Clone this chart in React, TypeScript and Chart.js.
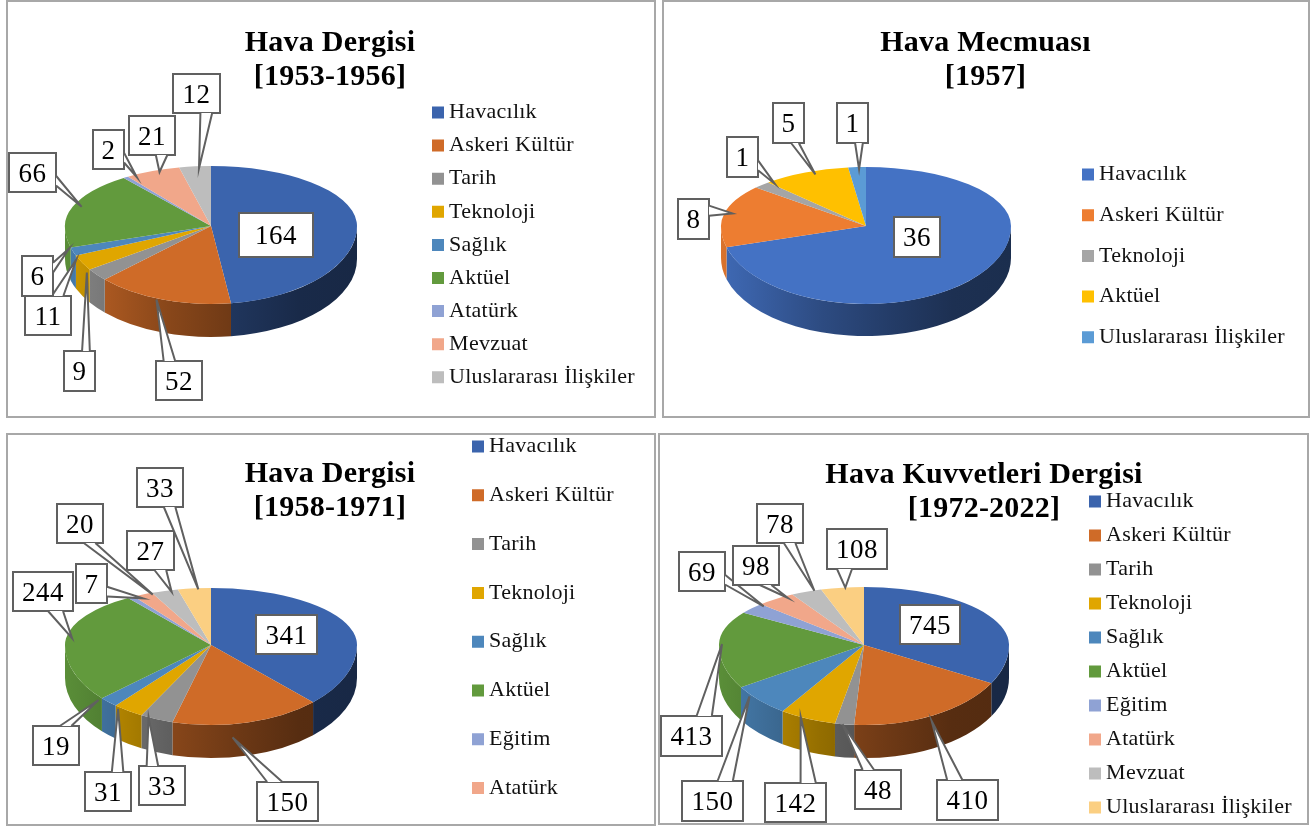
import React, { useEffect, useRef } from "react";
import { Chart, registerables } from "chart.js";

Chart.register(...registerables);

// ---------- data ----------
const p1Title = ["Hava Dergisi", "[1953-1956]"];
const p1Categories = ["Havacılık", "Askeri Kültür", "Tarih", "Teknoloji", "Sağlık", "Aktüel", "Atatürk", "Mevzuat", "Uluslararası İlişkiler"];
const p1Values = [164, 52, 9, 11, 6, 66, 2, 21, 12];

const p2Title = ["Hava Mecmuası", "[1957]"];
const p2Categories = ["Havacılık", "Askeri Kültür", "Teknoloji", "Aktüel", "Uluslararası İlişkiler"];
const p2Values = [36, 8, 1, 5, 1];

const p3Title = ["Hava Dergisi", "[1958-1971]"];
const p3Categories = ["Havacılık", "Askeri Kültür", "Tarih", "Teknoloji", "Sağlık", "Aktüel", "Eğitim", "Atatürk", "Mevzuat", "Uluslararası İlişkiler"];
const p3Values = [341, 150, 33, 31, 19, 244, 7, 20, 27, 33];

const p4Title = ["Hava Kuvvetleri Dergisi", "[1972-2022]"];
const p4Categories = ["Havacılık", "Askeri Kültür", "Tarih", "Teknoloji", "Sağlık", "Aktüel", "Eğitim", "Atatürk", "Mevzuat", "Uluslararası İlişkiler"];
const p4Values = [745, 410, 48, 142, 150, 413, 69, 98, 78, 108];

// ---------- styles ----------
const p1Colors = ["#3B64AD", "#CF6B28", "#929292", "#E0A600", "#4D87BC", "#629A3D", "#8FA2D4", "#F1A78A", "#BDBDBD"];
const p2Colors = ["#4472C4", "#ED7D31", "#A5A5A5", "#FFC000", "#5B9BD5"];
const p3Colors = ["#3B64AD", "#CF6B28", "#929292", "#E0A600", "#4D87BC", "#629A3D", "#8FA2D4", "#F1A78A", "#BDBDBD", "#FBCF82"];
const sideShade: [number, number][] = [[0, 0.92], [0.1, 0.85], [0.35, 0.66], [0.6, 0.52], [0.8, 0.42], [1, 0.4]];

// ---------- layout (page coordinates) ----------
// callout boxes: [left, top, right, bottom]
const p1Boxes = [[239, 213, 313, 257], [156, 361, 202, 400], [64, 351, 95, 391], [25, 296, 71, 335], [22, 256, 53, 296], [9, 153, 56, 192], [93, 130, 124, 169], [129, 116, 175, 155], [173, 74, 220, 113]];
const p2Boxes = [[894, 217, 940, 257], [678, 199, 709, 239], [727, 137, 758, 177], [773, 103, 804, 143], [837, 103, 868, 143]];
const p3Boxes = [[256, 615, 317, 654], [257, 782, 318, 821], [139, 766, 185, 805], [85, 772, 131, 811], [33, 726, 79, 765], [13, 572, 73, 611], [76, 564, 107, 603], [57, 504, 103, 543], [127, 531, 174, 570], [137, 468, 183, 507]];
const p4Boxes = [[900, 605, 960, 644], [937, 780, 998, 820], [855, 770, 901, 809], [765, 783, 826, 822], [682, 781, 743, 821], [661, 716, 722, 756], [679, 552, 725, 591], [733, 546, 779, 585], [757, 504, 803, 543], [827, 529, 887, 569]];
// leader tip offsets from each slice's rim midpoint; null = label sits on the slice with no leader
type Nudge = [number, number] | null;
const p1Nudges: Nudge[] = [null, [-6, 0], [-10, -2], [-6, -3], [-4, -3], [9, 0], [11, 0], [7, 1], [4, 2]];
const p2Nudges: Nudge[] = [null, [8, 0], [13, -1], [10, 2], [2, 2]];
const p3Nudges: Nudge[] = [null, [-15, 15], [-8, -2], [-10, -2], [-10, -2], [6, 0], [12, 1], [10, 0], [7, 1], [4, 1]];
const p4Nudges: Nudge[] = [null, [-2, 6], [-2, 0], [-7, -2], [-10, -4], [3, 0], [12, -2], [12, -1], [8, -1], [3, 0]];

const FONT = "'Liberation Serif', serif";

interface Panel {
  frame: [number, number, number, number]; // left, top, right, bottom
  title: string[]; titleX: number; titleY: number;
  categories: string[]; values: number[]; colors: string[];
  boxes: number[][]; nudges: Nudge[];
  cx: number; hub: number; rx: number; ryTop: number; ryBot: number; depth: number;
  legendX: number; legendY: number; legendStep: number;
}

const panels: Panel[] = [
  { frame: [7, 1, 655, 417], title: p1Title, titleX: 330, titleY: 43, categories: p1Categories, values: p1Values, colors: p1Colors, boxes: p1Boxes, nudges: p1Nudges, cx: 211, hub: 226, rx: 146, ryTop: 60, ryBot: 78, depth: 33, legendX: 432, legendY: 112.5, legendStep: 33.1 },
  { frame: [663, 1, 1309, 417], title: p2Title, titleX: 985.5, titleY: 43, categories: p2Categories, values: p2Values, colors: p2Colors, boxes: p2Boxes, nudges: p2Nudges, cx: 866, hub: 226, rx: 145, ryTop: 59, ryBot: 78, depth: 32, legendX: 1082, legendY: 174.5, legendStep: 40.7 },
  { frame: [7, 434, 655, 825], title: p3Title, titleX: 330, titleY: 474, categories: p3Categories, values: p3Values, colors: p3Colors, boxes: p3Boxes, nudges: p3Nudges, cx: 211, hub: 645, rx: 146, ryTop: 57, ryBot: 80, depth: 33, legendX: 472, legendY: 446.5, legendStep: 48.8 },
  { frame: [659, 434, 1308, 824], title: p4Title, titleX: 984, titleY: 475, categories: p4Categories, values: p4Values, colors: p3Colors, boxes: p4Boxes, nudges: p4Nudges, cx: 864, hub: 645, rx: 145, ryTop: 58, ryBot: 80, depth: 33, legendX: 1089, legendY: 501.5, legendStep: 34 },
];

function shade(hex: string, f: number): string {
  const n = parseInt(hex.slice(1), 16);
  const c = [(n >> 16) & 255, (n >> 8) & 255, n & 255].map((v) => Math.round(v * f));
  return `rgb(${c[0]},${c[1]},${c[2]})`;
}

function makePlugin(p: Panel) {
  const ox = p.frame[0];
  const oy = p.frame[1];
  const cx = p.cx - ox;
  const hub = p.hub - oy;
  const LEGEND_FONT = 22;
  const TITLE_LH = 34;
  return {
    id: "pie3d",
    afterLayout(chart: any) {
      chart.chartArea = { left: cx - p.rx, right: cx + p.rx, top: hub - p.rx, bottom: hub + p.rx, width: 2 * p.rx, height: 2 * p.rx };
      const pad = p.legendStep - LEGEND_FONT;
      const lg = chart.legend;
      lg.left = p.legendX - ox + 5.9 - pad;
      lg.top = p.legendY - oy - LEGEND_FONT / 2 - pad;
      lg.right = lg.left + 300;
      lg.bottom = lg.top + 700;
      const t = chart.titleBlock;
      t.left = p.titleX - ox - 320;
      t.right = p.titleX - ox + 320;
      t.top = p.titleY - oy - TITLE_LH / 2;
      t.bottom = t.top + 2 * TITLE_LH;
    },
    beforeDraw(chart: any) {
      chart.ctx.letterSpacing = "0.25px";
    },
    beforeDatasetsDraw(chart: any) {
      const ctx: CanvasRenderingContext2D = chart.ctx;
      const arcs = chart.getDatasetMeta(0).data;
      arcs.forEach((arc: any, i: number) => {
        const a = Math.max(arc.startAngle, 0);
        const b = Math.min(arc.endAngle, Math.PI);
        if (b <= a) return;
        const g = ctx.createLinearGradient(arc.x - p.rx, 0, arc.x + p.rx, 0);
        sideShade.forEach(([t, f]) => g.addColorStop(t, shade(p.colors[i], f)));
        ctx.beginPath();
        ctx.ellipse(arc.x, arc.y, p.rx, p.ryBot, 0, a, b);
        ctx.ellipse(arc.x, arc.y + p.depth, p.rx, p.ryBot, 0, b, a, true);
        ctx.closePath();
        ctx.fillStyle = g;
        ctx.fill();
      });
      // front part of the top face: the library draws it, squashed, below the hub
      ctx.save();
      ctx.beginPath();
      ctx.rect(0, hub, chart.width, chart.height - hub);
      ctx.clip();
      ctx.translate(cx, hub);
      ctx.scale(1, p.ryBot / p.rx);
      ctx.translate(-cx, -hub);
    },
    afterDatasetsDraw(chart: any) {
      const ctx: CanvasRenderingContext2D = chart.ctx;
      ctx.restore();
      // back part of the top face, foreshortened more strongly
      ctx.save();
      ctx.beginPath();
      ctx.rect(0, 0, chart.width, hub);
      ctx.clip();
      ctx.translate(cx, hub);
      ctx.scale(1, p.ryTop / p.rx);
      ctx.translate(-cx, -hub);
      chart.getDatasetMeta(0).data.forEach((arc: any) => arc.draw(ctx));
      ctx.restore();
    },
    afterDraw(chart: any) {
      const ctx: CanvasRenderingContext2D = chart.ctx;
      const arcs = chart.getDatasetMeta(0).data;
      ctx.save();
      ctx.lineWidth = 2;
      ctx.strokeStyle = "#606060";
      ctx.lineJoin = "miter";
      arcs.forEach((arc: any, i: number) => {
        const [l0, t0, r0, b0] = p.boxes[i];
        const l = l0 - ox, t = t0 - oy, r = r0 - ox, b = b0 - oy;
        const w = r - l, h = b - t;
        ctx.fillStyle = "#ffffff";
        ctx.fillRect(l, t, w, h);
        ctx.strokeRect(l, t, w, h);
        const nudge = p.nudges[i];
        if (nudge) {
          const mid = (arc.startAngle + arc.endAngle) / 2;
          const s = Math.sin(mid);
          const tx = arc.x + p.rx * Math.cos(mid) + nudge[0];
          const ty = arc.y + (s > 0 ? p.ryBot : p.ryTop) * s + nudge[1];
          const dx = tx - (l + w / 2), dy = ty - (t + h / 2);
          let p1: [number, number], p2: [number, number];
          if (Math.abs(dy) / h > Math.abs(dx) / w) {
            const e = dy > 0 ? b : t;
            const f0 = dx > 0 ? 7 / 12 : 2 / 12;
            const f1 = dx > 0 ? 10 / 12 : 5 / 12;
            p1 = [l + w * f0, e];
            p2 = [l + w * f1, e];
          } else {
            const e = dx > 0 ? r : l;
            const f0 = dy > 0 ? 7 / 12 : 2 / 12;
            const f1 = dy > 0 ? 10 / 12 : 5 / 12;
            p1 = [e, t + h * f0];
            p2 = [e, t + h * f1];
          }
          ctx.beginPath();
          ctx.moveTo(p1[0], p1[1]);
          ctx.lineTo(tx, ty);
          ctx.lineTo(p2[0], p2[1]);
          ctx.closePath();
          ctx.fillStyle = "#ffffff";
          ctx.fill();
          ctx.beginPath();
          ctx.moveTo(p1[0], p1[1]);
          ctx.lineTo(tx, ty);
          ctx.lineTo(p2[0], p2[1]);
          ctx.stroke();
        }
        ctx.fillStyle = "#000000";
        ctx.font = `27px ${FONT}`;
        ctx.textAlign = "center";
        ctx.textBaseline = "middle";
        (ctx as any).letterSpacing = "0.5px";
        ctx.fillText(String(p.values[i]), l + w / 2, t + h / 2 + 2);
        (ctx as any).letterSpacing = "0px";
      });
      ctx.restore();
    },
  };
}

function PiePanel({ panel }: { panel: Panel }) {
  const ref = useRef<HTMLCanvasElement>(null);
  useEffect(() => {
    const chart = new Chart(ref.current as HTMLCanvasElement, {
      type: "pie",
      data: {
        labels: panel.categories,
        datasets: [{ data: panel.values, backgroundColor: panel.colors, borderWidth: 0, clip: false } as any],
      },
      options: {
        responsive: false,
        animation: false,
        devicePixelRatio: 1,
        radius: panel.rx,
        events: [],
        plugins: {
          tooltip: { enabled: false },
          title: {
            display: true,
            text: panel.title,
            color: "#000000",
            padding: 0,
            font: { family: FONT, size: 30, weight: "bold", lineHeight: "34px" },
          },
          legend: {
            position: "right",
            align: "start",
            labels: {
              color: "#111111",
              font: { family: FONT, size: 22 },
              padding: panel.legendStep - 22,
              usePointStyle: true,
              pointStyle: "rect",
              boxWidth: 0.2,
              boxHeight: 12,
            },
          },
        },
      } as any,
      plugins: [makePlugin(panel) as any],
    });
    return () => chart.destroy();
  }, [panel]);
  const [l, t, r, b] = panel.frame;
  return (
    <>
      <div style={{ position: "absolute", left: l - 1, top: t - 1, width: r - l + 2, height: b - t + 2, boxSizing: "border-box", border: "2px solid #A8A8A8", background: "#fff" }} />
      <canvas ref={ref} width={r - l} height={620} style={{ position: "absolute", left: l, top: t, width: r - l, height: 620, display: "block" }} />
    </>
  );
}

export default function App() {
  useEffect(() => {
    document.body.style.margin = "0";
  }, []);
  return (
    <div style={{ position: "fixed", left: 0, top: 0, width: 1311, height: 827, overflow: "hidden", background: "#fff" }}>
      {panels.map((p, i) => (
        <PiePanel key={i} panel={p} />
      ))}
    </div>
  );
}
